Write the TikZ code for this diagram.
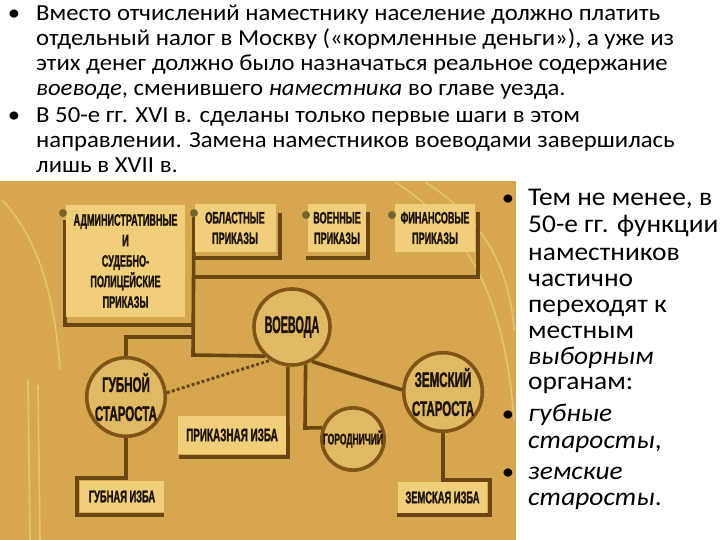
\documentclass[tikz,border=0pt]{standalone}
\usepackage{fontspec}
\setmainfont{Carlito}[FakeStretch=1.075]
\newfontfamily\dfont{Liberation Sans}[FakeStretch=0.55, BoldFeatures={FakeBold=1.2}]
\pgfdeclarelayer{back}
\pgfdeclarelayer{wires}
\pgfsetlayers{back,wires,main}
\definecolor{bg}{RGB}{214,167,78}
\definecolor{boxc}{RGB}{241,207,122}
\definecolor{dk}{RGB}{108,70,18}
\definecolor{ringc}{RGB}{128,84,22}
\definecolor{cfill}{RGB}{225,185,100}
\definecolor{ink}{RGB}{28,20,10}
\definecolor{dotc}{RGB}{115,100,45}
\definecolor{swirl}{RGB}{246,222,140}
\tikzset{
  txt/.style={font=\fontsize{23}{25}\selectfont, inner sep=0pt, anchor=base west},
  rtxt/.style={font=\fontsize{25.5}{26}\selectfont, inner sep=0pt, anchor=base west},
  bul/.style={font=\fontsize{23}{25}\selectfont, inner sep=0pt, anchor=base},
  lbl/.style 2 args={font=\dfont\bfseries\fontsize{#1}{#2}\selectfont, text=ink, align=center},
  wire/.style={draw=dk, line width=3.6pt},
  sbox/.style={rectangle, fill=boxc, inner sep=0pt},
  ringn/.style={circle, draw=ringc, line width=3.6pt, fill=cfill, inner sep=0pt},
  pdot/.style={circle, fill=dotc, minimum size=8pt, inner sep=0pt},
  deco/.style={draw=swirl, line width=1.6pt, opacity=0.5},
}
\begin{document}
\begin{tikzpicture}[x=1pt,y=-1pt]
\useasboundingbox (0,0) rectangle (720,540);
\begin{pgfonlayer}{back}
  \fill[white] (0,0) rectangle (720,540);
  \fill[bg] (0,181) rectangle (516,540);
  \draw[deco] (395,182) .. controls (470,230) and (505,300) .. (514,420);
  \draw[deco] (425,182) .. controls (485,220) and (510,270) .. (514,330);
  \draw[deco] (2,200) .. controls (40,240) and (55,300) .. (60,370);
  \draw[deco] (28,380) -- (30,540);
  \draw[deco] (38,385) -- (40,540);
\end{pgfonlayer}

% top text
\node[bul] (b1) at (14,21) {•};
\node[txt] (t1) at (36,21) {Вместо отчислений наместнику население должно платить};
\node[txt] (t2) at (36,46) {отдельный налог в Москву («кормленные деньги»), а уже из};
\node[txt] (t3) at (36,71) {этих денег должно было назначаться реальное содержание};
\node[txt] (t4) at (36,96) {\textit{воеводе}, сменившего \textit{наместника} во главе уезда.};
\node[bul] (b2) at (14,123) {•};
\node[txt] (t5) at (36,123) {В 50-е гг. XVI в. сделаны только первые шаги в этом};
\node[txt] (t6) at (36,148) {направлении. Замена наместников воеводами завершилась};
\node[txt] (t7) at (36,173) {лишь в XVII в.};

% right text
\node[bul] (b3) at (508,206) {•};
\node[rtxt] (r1) at (528,206) {Тем не менее, в};
\node[rtxt] (r2) at (528,233) {50-е гг. функции};
\node[rtxt] (r3) at (528,260) {наместников};
\node[rtxt] (r4) at (528,286) {частично};
\node[rtxt] (r5) at (528,312) {переходят к};
\node[rtxt] (r6) at (528,338) {местным};
\node[rtxt] (r7) at (528,364) {\textit{выборным}};
\node[rtxt] (r8) at (528,389) {органам:};
\node[bul] (b4) at (508,421) {•};
\node[rtxt] (r9) at (528,421) {\textit{губные}};
\node[rtxt] (r10) at (528,448) {\textit{старосты},};
\node[bul] (b5) at (508,479) {•};
\node[rtxt] (r11) at (528,479) {\textit{земские}};
\node[rtxt] (r12) at (528,505) {\textit{старосты}.};

% boxes
\node[sbox, minimum width=119pt, minimum height=111pt, lbl={16.5}{20.5}] (adm) at (125.5,261)
  {АДМИНИСТРАТИВНЫЕ\\И\\СУДЕБНО-\\ПОЛИЦЕЙСКИЕ\\ПРИКАЗЫ};
\node[sbox, minimum width=81pt, minimum height=48pt, lbl={16.5}{20.5}] (obl) at (235,228) {ОБЛАСТНЫЕ\\ПРИКАЗЫ};
\node[sbox, minimum width=58pt, minimum height=47pt, lbl={16.5}{20.5}] (voen) at (337,228) {ВОЕННЫЕ\\ПРИКАЗЫ};
\node[sbox, minimum width=80pt, minimum height=47pt, lbl={16.5}{20.5}] (fin) at (435,228) {ФИНАНСОВЫЕ\\ПРИКАЗЫ};
\node[sbox, minimum width=108pt, minimum height=38pt, lbl={18}{18}] (prik) at (232,435) {ПРИКАЗНАЯ ИЗБА};
\node[sbox, minimum width=84pt, minimum height=31pt, lbl={17}{17}] (gizba) at (122,496.5) {ГУБНАЯ ИЗБА};
\node[sbox, minimum width=89pt, minimum height=31pt, lbl={17}{17}] (zizba) at (442.5,497.5) {ЗЕМСКАЯ ИЗБА};

% dots
\node[pdot] (d1) at (63,213) {};
\node[pdot] (d2) at (194,213) {};
\node[pdot] (d3) at (306,215) {};
\node[pdot] (d4) at (392,215) {};

% circles
\node[ringn, minimum size=76pt, lbl={24}{24}] (voev) at (292,327) {\scalebox{0.82}[1]{ВОЕВОДА}};
\node[ringn, minimum size=78pt, lbl={21}{29}] (gub) at (126,397) {ГУБНОЙ\\СТАРОСТА};
\node[ringn, minimum size=76pt, lbl={21}{29}] (zem) at (443,392) {ЗЕМСКИЙ\\СТАРОСТА};
\node[ringn, minimum size=62pt, lbl={15.5}{15.5}] (gor) at (353,439) {ГОРОДНИЧИЙ};

\begin{pgfonlayer}{wires}
  \coordinate (admA) at (65,220);
  \coordinate (busL) at (193,277);
  \draw[wire] (admA) -- (65,325) -- (193,325);
  \draw[wire] (d2) -- (193,355) -- (voev.227);
  \draw[wire] (280,213) -- (280,258) -- (193,258);
  \draw[wire] (368,212) -- (368,258) -- (306,258);
  \draw[wire] (478,212) -- (478,277) -- (busL);
  \draw[wire] (gub.north) -- (126,337) -- (193,337);
  \draw[draw=dk, line width=3pt, dash pattern=on 3pt off 2.2pt] (gub.6) -- (voev.237);
  \draw[wire] (voev.264) -- (288,457) -- (179,457);
  \draw[wire] (voev.290) -- (305,428) -- (gor.160);
  \draw[wire] (voev.300) -- (zem.177);
  \draw[wire] (zem.south) -- (443,480) -- (490,480) -- (490,515) -- (397,515);
  \draw[wire] (gub.south) -- (126,478) -- (77,478) -- (77,515) -- (164,515);
\end{pgfonlayer}
\end{tikzpicture}
\end{document}
